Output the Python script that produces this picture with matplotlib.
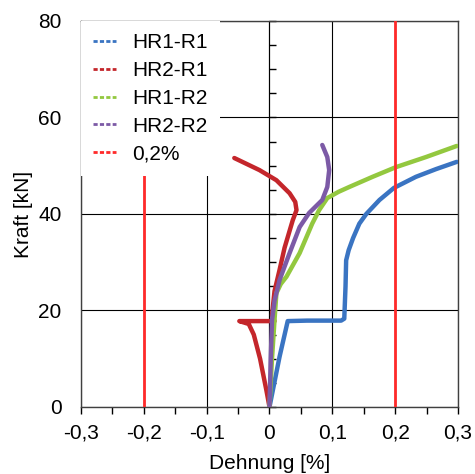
import numpy as np
import matplotlib.pyplot as plt
from matplotlib.lines import Line2D
from matplotlib.ticker import FuncFormatter

plt.rcParams['font.family'] = ['Liberation Sans', 'DejaVu Sans']

# Kraft-Dehnungs-Kurven
hr1_r1_x = [0, 0.016, 0.029, 0.06, 0.114, 0.119, 0.121, 0.122, 0.126, 0.133, 0.143, 0.154, 0.175, 0.198, 0.233, 0.265, 0.298]
hr1_r1_y = [0, 10.4, 17.8, 17.9, 17.9, 18.3, 25, 30.4, 32.5, 35, 38, 40, 42.9, 45.4, 47.7, 49.3, 50.8]

hr2_r1_x = [0, -0.005, -0.015, -0.025, -0.033, -0.048, 0.008, 0.004, 0.008, 0.016, 0.024, 0.037, 0.043, 0.041, 0.032, 0.011, -0.016, -0.056]
hr2_r1_y = [0, 3.5, 10, 15, 17.2, 17.8, 17.8, 19, 24, 28.4, 33, 38.7, 40.8, 42.5, 44.3, 47, 49.1, 51.6]

hr1_r2_x = [0, 0.004, 0.008, 0.011, 0.018, 0.027, 0.048, 0.068, 0.079, 0.092, 0.11, 0.127, 0.164, 0.201, 0.249, 0.298]
hr1_r2_y = [0, 10, 18, 23.6, 25.5, 27, 31.9, 38, 40.8, 43.3, 44.6, 45.6, 47.7, 49.7, 51.8, 54.1]

hr2_r2_x = [0, 0.002, 0.004, 0.008, 0.016, 0.032, 0.048, 0.063, 0.084, 0.092, 0.095, 0.092, 0.084]
hr2_r2_y = [0, 10, 18, 22, 26.3, 31.9, 37.3, 40.2, 42.9, 45.6, 49.1, 51.8, 54.3]

grenze = [-0.2, 0.2]  # 0,2% Dehngrenze

labels = ['HR1-R1', 'HR2-R1', 'HR1-R2', 'HR2-R2', '0,2%']
colors = ['#3A74C2', '#C4262B', '#93C83F', '#7C5AA6', '#FF2A2A']

x_ticks = [-0.3, -0.2, -0.1, 0, 0.1, 0.2, 0.3]
y_ticks = [0, 20, 40, 60, 80]

fig = plt.figure(figsize=(4.75, 4.74), dpi=100)
ax = fig.add_axes([0.1705, 0.1414, 0.7937, 0.8143])

series = [(hr1_r1_x, hr1_r1_y), (hr2_r1_x, hr2_r1_y), (hr1_r2_x, hr1_r2_y), (hr2_r2_x, hr2_r2_y)]
for (xs, ys), c in zip(series, colors[:4]):
    ax.plot(xs, ys, color=c, lw=3.2, solid_capstyle='round', zorder=3)
for g in grenze:
    ax.axvline(g, color=colors[4], lw=2.0, zorder=4)

ax.set_xlim(-0.3, 0.3)
ax.set_ylim(0, 80)
ax.set_xticks(x_ticks)
ax.set_xticks(np.arange(-0.3, 0.31, 0.05), minor=True)
ax.set_yticks(y_ticks)
fmt = FuncFormatter(lambda v, p: ('%g' % round(v, 2)).replace('.', ','))
ax.xaxis.set_major_formatter(fmt)
ax.tick_params(axis='x', which='both', direction='out', length=5, width=1, labelsize=15, pad=7)
ax.tick_params(axis='y', length=0, labelsize=15, pad=14)
ax.grid(True, which='major', color='black', lw=0.8, zorder=1)
for s in ax.spines.values():
    s.set_color('#404040')
    s.set_linewidth(1)

# y-Achse bei Dehnung 0 mit Teilstrichen
mid = ax.secondary_yaxis(0.5)
mid.set_yticks(np.arange(0, 81, 5))
mid.set_yticklabels([])
mid.tick_params(direction='out', length=5, width=1)
mid.spines['left'].set_linewidth(1)

ax.set_xlabel('Dehnung [%]', fontsize=15, labelpad=8)
ax.set_ylabel('Kraft [kN]', fontsize=15, labelpad=4)

handles = [Line2D([], [], color=c, lw=2, linestyle=(0, (1.5, 0.8))) for c in colors]
leg = ax.legend(handles, labels, loc='upper left', bbox_to_anchor=(0, 1), borderaxespad=0,
                fontsize=15, handlelength=1.1, handletextpad=0.75, labelspacing=0.42,
                frameon=True, fancybox=False, framealpha=1, borderpad=0.6)
leg.get_frame().set_edgecolor('none')
leg.get_frame().set_facecolor('white')
leg.set_zorder(5)

fig.savefig('out.png', dpi=100)
